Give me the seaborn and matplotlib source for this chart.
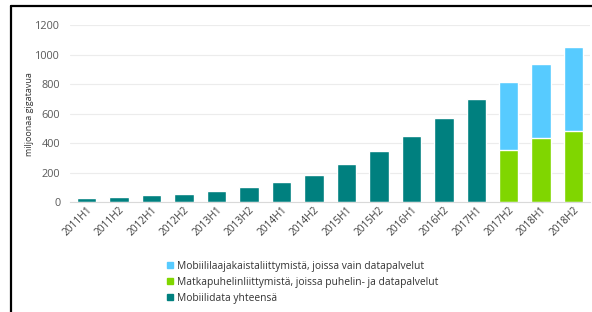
import pandas as pd
import seaborn as sns
import matplotlib.pyplot as plt
from matplotlib.lines import Line2D
from matplotlib.patches import Patch

# -------------------------------
# Data
# -------------------------------
periods = ["2011H1", "2011H2", "2012H1", "2012H2", "2013H1", "2013H2",
           "2014H1", "2014H2", "2015H1", "2015H2", "2016H1", "2016H2",
           "2017H1", "2017H2", "2018H1", "2018H2"]
total = [25, 36, 47, 56, 72, 99, 133, 184, 256, 346, 450, 571, 701,
         814, 935, 1050]
# split available from 2017H2 on
split_periods = ["2017H2", "2018H1", "2018H2"]
phone_data = [355, 434, 483]

labels = ["Mobiililaajakaistaliittymistä, joissa vain datapalvelut",
          "Matkapuhelinliittymistä, joissa puhelin- ja datapalvelut",
          "Mobiilidata yhteensä"]

c_blue = "#57CBFF"
c_green = "#80D600"
c_teal = "#00807F"

df = pd.DataFrame({"period": periods, "total": total})
teal_df = df[~df["period"].isin(split_periods)]
split_df = df[df["period"].isin(split_periods)].copy()
split_df["phone"] = phone_data

# -------------------------------
# Plot
# -------------------------------
sns.set_style("white")
plt.rcParams["font.family"] = ["Open Sans", "DejaVu Sans"]

fig = plt.figure(figsize=(5.92, 3.12), dpi=100)
ax = fig.add_axes([0.118, 0.3526, 0.879, 0.567])

sns.barplot(data=teal_df, x="period", y="total", order=periods,
            color=c_teal, width=0.6, saturation=1, ax=ax)
sns.barplot(data=split_df, x="period", y="total", order=periods,
            color=c_blue, width=0.6, saturation=1, ax=ax)
sns.barplot(data=split_df, x="period", y="phone", order=periods,
            color=c_green, width=0.6, saturation=1, ax=ax)

ax.set_ylim(0, 1200)
ax.set_xlim(-0.52, 15.51)
ax.set_yticks(range(0, 1201, 200))
ax.yaxis.grid(True, color="#ececec", linewidth=0.8)
ax.set_axisbelow(True)
for s in ["top", "right", "left"]:
    ax.spines[s].set_visible(False)
ax.spines["bottom"].set_color("#d9d9d9")
ax.spines["bottom"].set_linewidth(0.8)

ax.set_xlabel("")
ax.set_ylabel("")
fig.text(30 / 592, 1 - 114 / 312, "miljoonaa gigatavua", rotation=90,
         ha="center", va="center", fontsize=6.5, color="#333333")
ax.tick_params(axis="y", labelsize=7.8, colors="#595959", length=0, pad=7)
ax.tick_params(axis="x", labelsize=7.3, colors="#404040", length=0, pad=2)
plt.setp(ax.get_xticklabels(), rotation=45, ha="right", rotation_mode="anchor")

handles = [Patch(color=c_blue), Patch(color=c_green), Patch(color=c_teal)]
fig.legend(handles, labels, loc="upper left", bbox_to_anchor=(0.282, 0.165),
           frameon=False, fontsize=7.4, handlelength=0.55, handleheight=0.55,
           handletextpad=0.45, labelspacing=0.5, borderaxespad=0,
           borderpad=0, labelcolor="#333333")

# frame lines (left and top)
fig.add_artist(Line2D([11 / 592, 11 / 592], [0, 1 - 6 / 312],
                      transform=fig.transFigure, color="black", lw=1.6))
fig.add_artist(Line2D([11 / 592, 1], [1 - 6 / 312, 1 - 6 / 312],
                      transform=fig.transFigure, color="black", lw=1.6))

plt.savefig("out.png", dpi=100)
plt.close()
